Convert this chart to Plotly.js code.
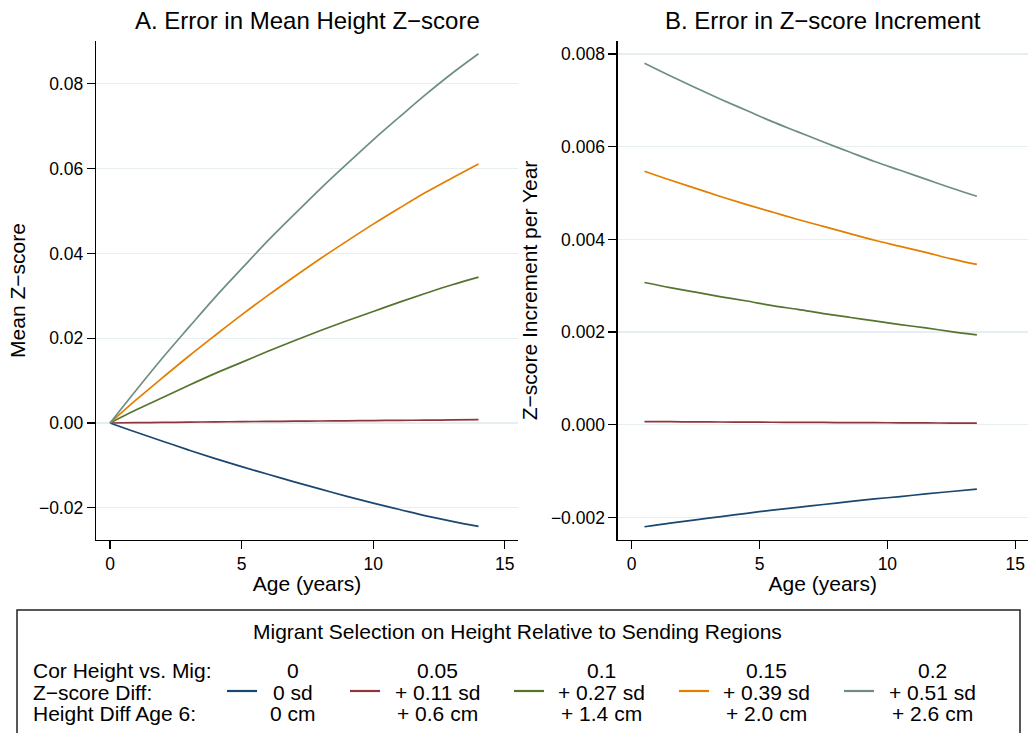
<!DOCTYPE html>
<html>
<head>
<meta charset="utf-8">
<script src="https://cdn.plot.ly/plotly-3.0.1.min.js"></script>
<style>
  html, body { margin: 0; padding: 0; background: #ffffff; }
  #chart { width: 1028px; height: 733px; }
</style>
</head>
<body>
<div id="chart"></div>
<script>
// Age grid for the cumulative error (panel A) and the yearly increments (panel B)
const ageLevel = [0, 1, 2, 3, 4, 5, 6, 7, 8, 9, 10, 11, 12, 13, 14];
const ageIncrement = [0.5, 1.5, 2.5, 3.5, 4.5, 5.5, 6.5, 7.5, 8.5, 9.5, 10.5, 11.5, 12.5, 13.5];

// Correlation of height with migration, one series per scenario
const corrLabels = ['0', '0.05', '0.1', '0.15', '0.2'];
const zDiffLabels = ['0 sd', '+ 0.11 sd', '+ 0.27 sd', '+ 0.39 sd', '+ 0.51 sd'];
const heightDiffLabels = ['0 cm', '+ 0.6 cm', '+ 1.4 cm', '+ 2.0 cm', '+ 2.6 cm'];
const seriesColors = ['#1a476f', '#90353b', '#55752f', '#e37e00', '#6e8e84'];

// Panel A: error in mean height z-score
const meanZ_corr000 = [0, -0.0022, -0.0043, -0.0064, -0.0084, -0.0103, -0.0121, -0.0139, -0.0156, -0.0173, -0.0189, -0.0204, -0.0219, -0.0232, -0.0244];
const meanZ_corr005 = [0, 0.00007, 0.00013, 0.0002, 0.00026, 0.00032, 0.00037, 0.00042, 0.00047, 0.00052, 0.00057, 0.00062, 0.00067, 0.00072, 0.00077];
const meanZ_corr010 = [0, 0.0031, 0.0060, 0.0089, 0.0117, 0.0143, 0.0169, 0.0194, 0.0218, 0.0241, 0.0263, 0.0285, 0.0306, 0.0326, 0.0344];
const meanZ_corr015 = [0, 0.0055, 0.0107, 0.0158, 0.0207, 0.0255, 0.0301, 0.0345, 0.0388, 0.0429, 0.0469, 0.0507, 0.0544, 0.0578, 0.0611];
const meanZ_corr020 = [0, 0.0078, 0.0154, 0.0226, 0.0297, 0.0364, 0.0430, 0.0492, 0.0553, 0.0611, 0.0668, 0.0722, 0.0775, 0.0825, 0.0871];

// Panel B: error in z-score increment per year
const incZ_corr000 = [-0.00220, -0.00212, -0.00205, -0.00198, -0.00191, -0.00184, -0.00178, -0.00172, -0.00166, -0.00160, -0.00155, -0.00149, -0.00144, -0.00139];
const incZ_corr005 = [0.000068, 0.000066, 0.000063, 0.000060, 0.000058, 0.000055, 0.000052, 0.000050, 0.000047, 0.000045, 0.000042, 0.000040, 0.000037, 0.000035];
const incZ_corr010 = [0.00307, 0.00296, 0.00286, 0.00276, 0.00267, 0.00257, 0.00249, 0.00240, 0.00232, 0.00224, 0.00216, 0.00209, 0.00201, 0.00194];
const incZ_corr015 = [0.00547, 0.00528, 0.00510, 0.00492, 0.00475, 0.00459, 0.00443, 0.00428, 0.00413, 0.00398, 0.00385, 0.00372, 0.00358, 0.00346];
const incZ_corr020 = [0.00780, 0.00753, 0.00727, 0.00702, 0.00678, 0.00654, 0.00632, 0.00610, 0.00589, 0.00568, 0.00549, 0.00530, 0.00511, 0.00493];

const meanZ = [meanZ_corr000, meanZ_corr005, meanZ_corr010, meanZ_corr015, meanZ_corr020];
const incZ = [incZ_corr000, incZ_corr005, incZ_corr010, incZ_corr015, incZ_corr020];

const W = 1028, H = 733;
const px = x => x / W;
const py = y => 1 - y / H;
const FONT = 'Liberation Sans, Arial, Helvetica, sans-serif';

const traces = [];
meanZ.forEach((ys, i) => {
  traces.push({
    type: 'scatter', mode: 'lines', x: ageLevel, y: ys,
    xaxis: 'x', yaxis: 'y', name: zDiffLabels[i], showlegend: false,
    line: { color: seriesColors[i], width: 1.7, shape: 'spline', smoothing: 1 }, hoverinfo: 'skip'
  });
});
incZ.forEach((ys, i) => {
  traces.push({
    type: 'scatter', mode: 'lines', x: ageIncrement, y: ys,
    xaxis: 'x2', yaxis: 'y2', name: zDiffLabels[i], showlegend: false,
    line: { color: seriesColors[i], width: 1.7, shape: 'spline', smoothing: 1 }, hoverinfo: 'skip'
  });
});

const axisCommon = {
  showline: true, linecolor: '#000000', linewidth: 1.3,
  ticks: 'outside', ticklen: 8, tickwidth: 1.3, tickcolor: '#000000',
  tickfont: { family: FONT, size: 17.5, color: '#000000' },
  zeroline: false, mirror: false, fixedrange: true
};
const yDomain = [py(540), py(41)];

const layout = {
  width: W, height: H,
  margin: { l: 0, r: 0, t: 0, b: 0, pad: 0 },
  paper_bgcolor: '#ffffff', plot_bgcolor: '#ffffff',
  font: { family: FONT, color: '#000000' },
  showlegend: false,
  xaxis: Object.assign({}, axisCommon, {
    domain: [px(96), px(518)], range: [-0.532, 15.5],
    tickvals: [0, 5, 10, 15], showgrid: false, anchor: 'y',
    title: { text: 'Age (years)', font: { family: FONT, size: 21 }, standoff: 3 }
  }),
  yaxis: Object.assign({}, axisCommon, {
    domain: yDomain, range: [-0.0276, 0.0901],
    tickvals: [-0.02, 0, 0.02, 0.04, 0.06, 0.08], tickformat: '.2f',
    showgrid: true, gridcolor: '#e6eef1', gridwidth: 1.2, anchor: 'x',
    title: { text: 'Mean Z\u2212score', font: { family: FONT, size: 21 }, standoff: 7 }
  }),
  xaxis2: Object.assign({}, axisCommon, {
    domain: [px(617.7), 1], range: [-0.547, 15.5],
    tickvals: [0, 5, 10, 15], showgrid: false, anchor: 'y2',
    title: { text: 'Age (years)', font: { family: FONT, size: 21 }, standoff: 3 }
  }),
  yaxis2: Object.assign({}, axisCommon, {
    domain: yDomain, range: [-0.002486, 0.00828],
    tickvals: [-0.002, 0, 0.002, 0.004, 0.006, 0.008], tickformat: '.3f',
    showgrid: true, gridcolor: '#e6eef1', gridwidth: 1.2, anchor: 'x2',
    title: { text: 'Z\u2212score Increment per Year', font: { family: FONT, size: 21 }, standoff: 7 }
  }),
  shapes: [],
  annotations: []
};

// Panel titles
layout.annotations.push({
  xref: 'paper', yref: 'paper', x: px(307), y: py(21), xanchor: 'center', yanchor: 'middle',
  text: 'A. Error in Mean Height Z\u2212score', showarrow: false,
  font: { family: FONT, size: 24, color: '#000000' }
});
layout.annotations.push({
  xref: 'paper', yref: 'paper', x: px(823), y: py(21), xanchor: 'center', yanchor: 'middle',
  text: 'B. Error in Z\u2212score Increment', showarrow: false,
  font: { family: FONT, size: 24, color: '#000000' }
});

// Legend box below the panels
layout.shapes.push({
  type: 'rect', xref: 'paper', yref: 'paper',
  x0: px(17), x1: px(1020), y0: py(760), y1: py(610),
  line: { color: '#222222', width: 1.5 }, fillcolor: 'rgba(0,0,0,0)'
});
layout.annotations.push({
  xref: 'paper', yref: 'paper', x: px(517), y: py(631), xanchor: 'center', yanchor: 'middle',
  text: 'Migrant Selection on Height Relative to Sending Regions', showarrow: false,
  font: { family: FONT, size: 21, color: '#000000' }
});

const rowY = [670, 692, 713];
const rowHeads = ['Cor Height vs. Mig:', 'Z\u2212score Diff:', 'Height Diff Age 6:'];
rowHeads.forEach((t, r) => {
  layout.annotations.push({
    xref: 'paper', yref: 'paper', x: px(31), y: py(rowY[r]), xanchor: 'left', yanchor: 'middle',
    text: t, showarrow: false, font: { family: FONT, size: 21, color: '#000000' }
  });
});

const colCenter = [293, 437, 601, 766, 932];
const keyStart = [227, 350, 514, 679, 844];
corrLabels.forEach((c, i) => {
  [c, zDiffLabels[i], heightDiffLabels[i]].forEach((t, r) => {
    layout.annotations.push({
      xref: 'paper', yref: 'paper', x: px(colCenter[i]), y: py(rowY[r]),
      xanchor: 'center', yanchor: 'middle', text: t, showarrow: false,
      font: { family: FONT, size: 21, color: '#000000' }
    });
  });
  layout.shapes.push({
    type: 'line', xref: 'paper', yref: 'paper',
    x0: px(keyStart[i]), x1: px(keyStart[i] + 30), y0: py(691), y1: py(691),
    line: { color: seriesColors[i], width: 2.2 }
  });
});

Plotly.newPlot('chart', traces, layout, { staticPlot: true, displayModeBar: false });
</script>
</body>
</html>
